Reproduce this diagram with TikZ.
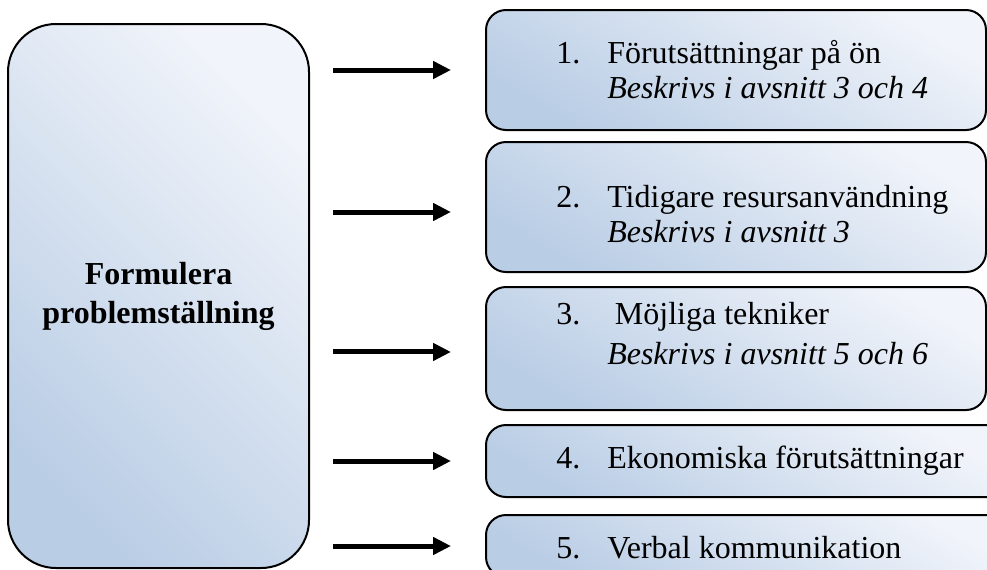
\documentclass[tikz,border=0pt]{standalone}
\usepackage{fontspec}
\setmainfont{Liberation Serif}
\usetikzlibrary{arrows.meta}

\definecolor{boxljus}{RGB}{241,244,250}
\definecolor{boxmork}{RGB}{185,205,229}

\tikzset{
  ruta/.style={draw=black, line width=1.5pt, rounded corners=15pt,
    inner sep=0pt, outer sep=0pt, top color=boxljus, bottom color=boxmork,
    shading angle=-30},
  pil/.style={line width=3.75pt, -{Triangle[length=13.5pt,width=12.75pt]},
    shorten <=18pt, shorten >=26.25pt},
  rad/.style={anchor=base west, inner sep=0pt, font=\fontsize{24}{28}\selectfont},
}

\begin{document}
\begin{tikzpicture}[x=0.75pt,y=-0.75pt]
  \useasboundingbox (0,0) rectangle (987,569);

  % vänstra rutan
  \node[ruta, rounded corners=36pt, shading angle=-45,
    minimum width=225.75pt, minimum height=408pt] (venster) at (158.5,296) {};
  \node[align=center, inner sep=0pt,
    font=\bfseries\fontsize{24}{29.25}\selectfont] (titel) at (venster) {Formulera\\problemställning};

  % rutor till höger
  \node[ruta, minimum width=375pt, minimum height=90pt] (box1) at (736,70) {};
  \node[ruta, minimum width=375pt, minimum height=97.5pt] (box2) at (736,207) {};
  \node[ruta, minimum width=375pt, minimum height=92.25pt] (box3) at (736,348.5) {};
  \node[ruta, minimum width=393pt, minimum height=54pt] (box4) at (748,461) {};
  \node[ruta, minimum width=393pt, minimum height=46.5pt] (box5) at (748,546) {};

  \node[rad] (t1a) at (556,63) {\makebox[38.25pt][l]{1.}Förutsättningar på ön};
  \node[rad] (t1b) at (607,98) {\itshape Beskrivs i avsnitt 3 och 4};
  \node[rad] (t2a) at (556,207) {\makebox[38.25pt][l]{2.}Tidigare resursanvändning};
  \node[rad] (t2b) at (607,242) {\itshape Beskrivs i avsnitt 3};
  \node[rad] (t3a) at (556,324) {\makebox[44pt][l]{3.}Möjliga tekniker};
  \node[rad] (t3b) at (607,364) {\itshape Beskrivs i avsnitt 5 och 6};
  \node[rad] (t4a) at (556,468) {\makebox[38.25pt][l]{4.}Ekonomiska förutsättningar};
  \node[rad] (t5a) at (556,558) {\makebox[38.25pt][l]{5.}Verbal kommunikation};

  % pilar
  \draw[pil] (venster.east |- box1.west) -- (box1.west);
  \draw[pil] ([yshift=-3.75pt]venster.east |- box2.west) -- ([yshift=-3.75pt]box2.west);
  \draw[pil] ([yshift=-2.6pt]venster.east |- box3.west) -- ([yshift=-2.6pt]box3.west);
  \draw[pil] (venster.east |- box4.west) -- (box4.west);
  \draw[pil] (venster.east |- box5.west) -- (box5.west);
\end{tikzpicture}
\end{document}
